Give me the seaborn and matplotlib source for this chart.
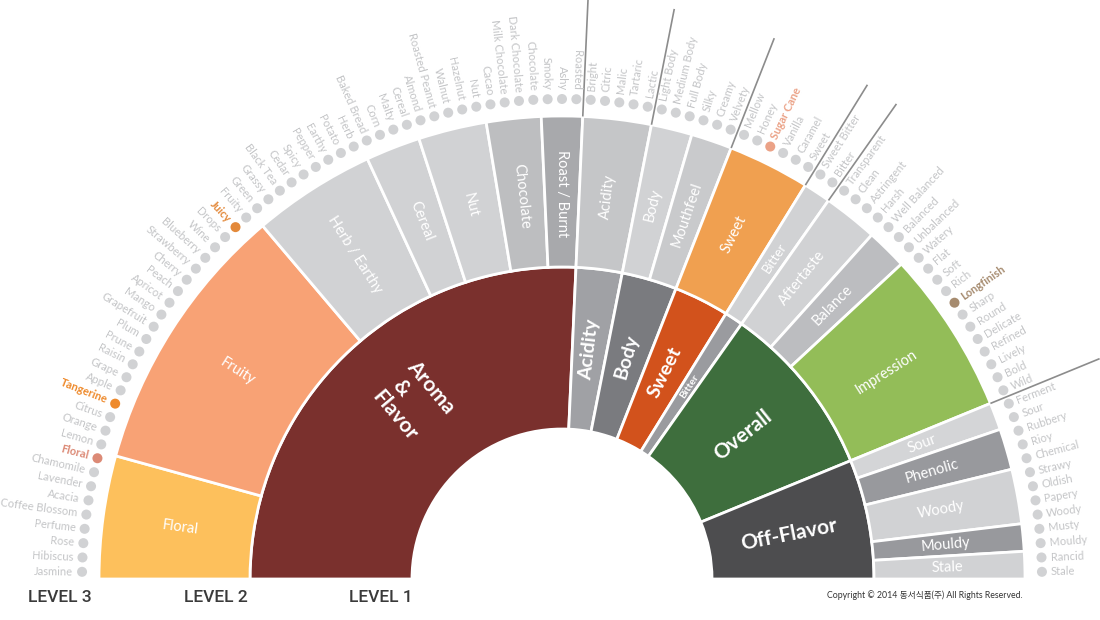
import numpy as np
import pandas as pd
import matplotlib
matplotlib.use("Agg")
import matplotlib.pyplot as plt
from matplotlib.patches import Wedge
import seaborn as sns

# level 1 (inner ring)
level1 = ["Aroma\n &\nFlavor", "Acidity", "Body", "Sweet", "Bitter", "Overall", "Off-Flavor"]
level1_colors = ["#7a302d", "#a0a1a5", "#7a7b7f", "#d2521c", "#9a9b9f", "#3e6e3d", "#4d4d4f"]
level1_sizes = [15, 14, 14, 14, 7.5, 15, 15]

# level 2 (middle ring)
level2 = ["Floral", "Fruity", "Herb / Earthy", "Cereal", "Nut", "Chocolate", "Roast / Burnt",
          "Acidity", "Body", "Mouthfeel", "Sweet", "Bitter", "Aftertaste", "Balance", "Impression",
          "Sour", "Phenolic", "Woody", "Mouldy", "Stale"]
level2_parent = [0, 0, 0, 0, 0, 0, 0, 1, 2, 2, 3, 4, 5, 5, 5, 6, 6, 6, 6, 6]
level2_colors = ["#fdc05c", "#f8a275", "#d1d2d4", "#d1d2d4", "#d1d2d4", "#bdbec0", "#a8a9ac",
                 "#c5c6c8", "#d1d2d4", "#c9cacc", "#f0a050", "#d1d2d4", "#d1d2d4", "#bcbdc0",
                 "#93bd58", "#d4d5d7", "#98999d", "#d1d2d4", "#98999d", "#d1d2d4"]

# level 3 (outer labels)
level3 = [
    ["Jasmine", "Hibiscus", "Rose", "Perfume", "Coffee Blossom", "Acacia", "Lavender", "Chamomile", "Floral"],
    ["Lemon", "Orange", "Citrus", "Tangerine", "Apple", "Grape", "Raisin", "Prune", "Plum", "Grapefruit",
     "Mango", "Apricot", "Peach", "Cherry", "Strawberry", "Blueberry", "Wine", "Drops", "Juicy", "Fruity"],
    ["Green", "Grassy", "Black Tea", "Cedar", "Spicy", "Pepper", "Earthy", "Potato", "Herb"],
    ["Baked Bread", "Corn", "Malty", "Cereal"],
    ["Almond", "Roasted Peanut", "Walnut", "Hazelnut", "Nut"],
    ["Cacao", "Milk Chocolate", "Dark Chocolate", "Chocolate"],
    ["Smoky", "Ashy", "Roasted"],
    ["Bright", "Citric", "Malic", "Tartaric", "Lactic"],
    ["Light Body", "Medium Body", "Full Body"],
    ["Silky", "Creamy", "Velvety"],
    ["Mellow", "Honey", "Sugar Cane", "Vanilla", "Caramel", "Sweet"],
    ["Sweet Bitter", "Bitter"],
    ["Transparent", "Clean", "Astringent", "Harsh"],
    ["Well Balanced", "Balanced", "Unbalanced"],
    ["Watery", "Flat", "Soft", "Rich", "Longfinish", "Sharp", "Round", "Delicate", "Refined",
     "Lively", "Bold", "Wild"],
    ["Ferment", "Sour"],
    ["Rubbery", "Rioy", "Chemical"],
    ["Strawy", "Oldish", "Papery", "Woody"],
    ["Musty", "Mouldy"],
    ["Rancid", "Stale"],
]
highlight = {"Floral": "#dc8a76", "Tangerine": "#ee8a2c", "Juicy": "#e3893a",
             "Sugar Cane": "#eba287", "Longfinish": "#a68b6f"}

level_names = ["LEVEL 3", "LEVEL 2", "LEVEL 1"]
copyright_text = "Copyright © 2014 동서식품(주) All Rights Reserved."

sns.set_theme(style="white")
plt.rcParams["font.family"] = ["Lato", "Noto Sans CJK KR", "DejaVu Sans"]

cx, cy = 562, 41
R0, R1, R2 = 150, 312, 463
R_dot, R_txt = 480, 489
R_ray = 581

n3 = sum(len(g) for g in level3)
step = 180.0 / n3

counts2 = np.array([len(g) for g in level3])
end2 = np.cumsum(counts2)
start2 = end2 - counts2
counts1 = np.array([counts2[np.array(level2_parent) == i].sum() for i in range(len(level1))])
end1 = np.cumsum(counts1)
start1 = end1 - counts1


def ang(k):
    return 180.0 - k * step


def pol(r, a):
    t = np.deg2rad(a)
    return cx + r * np.cos(t), cy + r * np.sin(t)


def radial_text(r, a, s, left, **kw):
    x, y = pol(r, a)
    rot = a - 180 if left else a
    ax.text(x, y, s, rotation=rot, rotation_mode="anchor", **kw)


fig = plt.figure(figsize=(11, 6.2), dpi=100)
ax = fig.add_axes([0, 0, 1, 1])
ax.set_xlim(0, 1100)
ax.set_ylim(0, 620)
ax.set_aspect("equal")
ax.axis("off")

# level 1 ring
for i, name in enumerate(level1):
    a1, a2 = ang(end1[i]), ang(start1[i])
    ax.add_patch(Wedge((cx, cy), R1, a1, a2, width=R1 - R0, fc=level1_colors[i], ec="white", lw=2))
    mid = (a1 + a2) / 2
    if i == 0:
        mid = 130  # aroma label sits a little left of the segment middle
    radial_text(231, mid, name, i == 0, ha="center", va="center", color="white",
                fontsize=level1_sizes[i], fontweight="bold", multialignment="left",
                linespacing=1.2)

# level 2 ring
for j, name in enumerate(level2):
    a1, a2 = ang(end2[j]), ang(start2[j])
    ax.add_patch(Wedge((cx, cy), R2, a1, a2, width=R2 - R1, fc=level2_colors[j], ec="white", lw=2))
    mid = (a1 + a2) / 2
    fs = 9.5 if name == "Bitter" else 10.5
    radial_text(385, mid, name, level2_parent[j] == 0, ha="center", va="center",
                color="white", fontsize=fs)

# rays between level 1 groups
for b in end1[:-1]:
    a = ang(b)
    x1, y1 = pol(R2, a)
    x2, y2 = pol(R_ray, a)
    ax.plot([x1, x2], [y1, y2], color="#8c8c8c", lw=1.2, solid_capstyle="butt")

# level 3 dots and labels
rows = []
for j, group in enumerate(level3):
    for m, name in enumerate(group):
        k = start2[j] + m + 0.5
        a = ang(k)
        x, y = pol(R_dot, a)
        rows.append({"name": name, "group": j, "angle": a, "x": x, "y": y,
                     "color": highlight.get(name, "#d1d2d4")})
df3 = pd.DataFrame(rows)

sns.scatterplot(data=df3, x="x", y="y", hue="color",
                palette={c: c for c in df3["color"].unique()},
                s=52, linewidth=0, legend=False, ax=ax, zorder=3)

for _, r in df3.iterrows():
    left = level2_parent[r["group"]] == 0
    hl = r["name"] in highlight
    radial_text(R_txt, r["angle"], r["name"], left,
                ha="right" if left else "left", va="center",
                color=highlight[r["name"]] if hl else "#c4c5c7",
                fontsize=8.0, fontweight="bold" if hl else "normal")

# level captions
for name, x in zip(level_names, [60, 216, 381]):
    ax.text(x, 22, name, ha="center", va="center", fontsize=12.5, color="#3a3a3a",
            fontweight="medium", family=["Roboto", "DejaVu Sans"])

ax.text(925, 25, copyright_text, ha="center", va="center", fontsize=6.3, color="#333333",
        family=["Lato", "Noto Sans CJK KR"])

fig.savefig("out.png", dpi=100, facecolor="white")
